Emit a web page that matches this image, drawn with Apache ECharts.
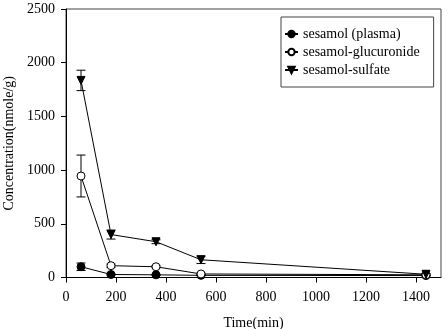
<!DOCTYPE html>
<html>
<head>
<meta charset="utf-8">
<script src="https://cdn.jsdelivr.net/npm/echarts@6/dist/echarts.min.js"></script>
<style>
  html, body { margin: 0; padding: 0; background: #fff; }
  #chart { width: 448px; height: 329px; }
</style>
</head>
<body>
<div id="chart"></div>
<script>
// sampling times (min)
var times = [60, 180, 360, 540, 1440];
// concentrations (nmole/g) with their error bars
var plasma = [100, 28, 25, 20, 18];
var plasmaErr = [35, 6, 5, 4, 4];
var glucuronide = [945, 110, 100, 33, 25];
var glucuronideErr = [195, 15, 10, 8, 8];
var sulfate = [1835, 400, 333, 165, 30];
var sulfateErr = [95, 42, 18, 35, 8];

var xTicks = [0, 200, 400, 600, 800, 1000, 1200, 1400];

var font = 'Liberation Serif';

function pairs(ys) {
    return times.map(function (t, i) { return [t, ys[i]]; });
}

function errData(ys, errs) {
    return times.map(function (t, i) { return [t, ys[i] - errs[i], ys[i] + errs[i]]; });
}

function errSeries(ys, errs) {
    return {
        type: 'custom',
        data: errData(ys, errs),
        z: 1,
        silent: true,
        renderItem: function (params, api) {
            var lo = api.coord([api.value(0), api.value(1)]);
            var hi = api.coord([api.value(0), api.value(2)]);
            var w = 4.5;
            var st = { stroke: '#000', lineWidth: 1 };
            return {
                type: 'group',
                children: [
                    { type: 'line', shape: { x1: lo[0], y1: lo[1], x2: hi[0], y2: hi[1] }, style: st },
                    { type: 'line', shape: { x1: lo[0] - w, y1: lo[1], x2: lo[0] + w, y2: lo[1] }, style: st },
                    { type: 'line', shape: { x1: hi[0] - w, y1: hi[1], x2: hi[0] + w, y2: hi[1] }, style: st }
                ]
            };
        }
    };
}

function lineSeries(name, ys, symbol, fill, rotate) {
    return {
        name: name,
        type: 'line',
        data: pairs(ys),
        z: 3,
        symbol: symbol,
        symbolSize: 8,
        symbolRotate: rotate || 0,
        showAllSymbol: true,
        lineStyle: { color: '#000', width: 1 },
        itemStyle: { color: fill, borderColor: '#000', borderWidth: 1 },
        emphasis: { disabled: true }
    };
}

function plain(v) { return String(v); }

var chart = echarts.init(document.getElementById('chart'));
var option = {
    animation: false,
    backgroundColor: '#fff',
    grid: {
        left: 66, right: 7, top: 9, bottom: 51.5,
        outerBoundsMode: 'none',
        containLabel: false,
        show: true, borderColor: '#444', borderWidth: 1
    },
    legend: {
        orient: 'vertical',
        left: 281, top: 17,
        padding: [10, 14, 10, 3],
        itemGap: 4,
        itemWidth: 13,
        itemHeight: 8,
        borderColor: '#444',
        borderWidth: 1,
        textStyle: { fontFamily: font, fontSize: 14, color: '#000' },
        data: ['sesamol (plasma)', 'sesamol-glucuronide', 'sesamol-sulfate']
    },
    xAxis: {
        type: 'value',
        min: 0, max: 1500, interval: 200,
        name: 'Time(min)',
        nameLocation: 'middle',
        nameGap: 39,
        nameTextStyle: { fontFamily: font, fontSize: 14, color: '#000' },
        axisLine: { show: true, lineStyle: { color: '#000', width: 1 } },
        axisTick: { show: true, inside: false, length: 5, customValues: xTicks, lineStyle: { color: '#000' } },
        axisLabel: { fontFamily: font, fontSize: 14, color: '#000', margin: 13, customValues: xTicks, formatter: plain },
        splitLine: { show: false }
    },
    yAxis: {
        type: 'value',
        min: 0, max: 2500, interval: 500,
        name: 'Concentration(nmole/g)',
        nameLocation: 'middle',
        nameGap: 42,
        nameTextStyle: { fontFamily: font, fontSize: 14, color: '#000' },
        axisLine: { show: true, lineStyle: { color: '#000', width: 1 } },
        axisTick: { show: true, inside: false, length: 5, lineStyle: { color: '#000' } },
        axisLabel: { fontFamily: font, fontSize: 14, color: '#000', margin: 11, formatter: plain },
        splitLine: { show: false }
    },
    series: [
        errSeries(plasma, plasmaErr),
        errSeries(glucuronide, glucuronideErr),
        errSeries(sulfate, sulfateErr),
        lineSeries('sesamol (plasma)', plasma, 'circle', '#000'),
        lineSeries('sesamol-glucuronide', glucuronide, 'circle', '#fff'),
        lineSeries('sesamol-sulfate', sulfate, 'triangle', '#000', 180)
    ]
};
chart.setOption(option);
</script>
</body>
</html>
